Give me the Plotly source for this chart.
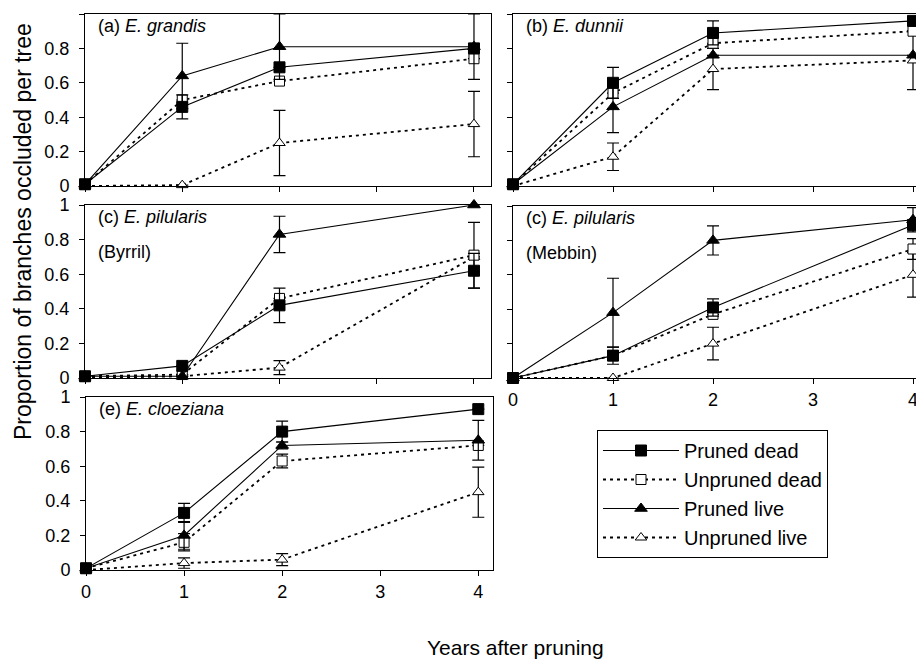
import plotly.graph_objects as go

# ---------------- data ----------------
years = [0, 1, 2, 4]
series_names = ["Pruned dead", "Unpruned dead", "Pruned live", "Unpruned live"]

# (a) E. grandis
a_pd = [0.01, 0.46, 0.69, 0.80]; a_pd_e = [0, 0.07, 0.00, 0.00]
a_ud = [0.01, 0.50, 0.61, 0.74]; a_ud_e = [0, 0.00, 0.00, 0.00]
a_pl = [0.01, 0.64, 0.81, 0.81]; a_pl_e = [0, 0.19, 0.19, 0.19]
a_ul = [0.00, 0.005, 0.25, 0.36]; a_ul_e = [0, 0.00, 0.19, 0.19]

# (b) E. dunnii
b_pd = [0.01, 0.60, 0.89, 0.96]; b_pd_e = [0, 0.09, 0.07, 0.00]
b_ud = [0.01, 0.54, 0.83, 0.90]; b_ud_e = [0, 0.00, 0.00, 0.00]
b_pl = [0.01, 0.46, 0.76, 0.76]; b_pl_e = [0, 0.15, 0.00, 0.00]
b_ul = [0.00, 0.17, 0.68, 0.73]; b_ul_e = [0, 0.08, 0.12, 0.17]

# (c) E. pilularis (Byrril)
c_pd = [0.01, 0.07, 0.42, 0.62]; c_pd_e = [0, 0.00, 0.10, 0.10]
c_ud = [0.01, 0.02, 0.46, 0.71]; c_ud_e = [0, 0.00, 0.00, 0.19]
c_pl = [0.01, 0.01, 0.83, 1.00]; c_pl_e = [0, 0.00, 0.105, 0.00]
c_ul = [0.00, 0.01, 0.06, 0.70]; c_ul_e = [0, 0.00, 0.04, 0.00]

# (c) E. pilularis (Mebbin)
d_pd = [0.00, 0.13, 0.41, 0.89]; d_pd_e = [0, 0.05, 0.05, 0.00]
d_ud = [0.00, 0.13, 0.37, 0.75]; d_ud_e = [0, 0.00, 0.00, 0.06]
d_pl = [0.00, 0.38, 0.80, 0.92]; d_pl_e = [0, 0.20, 0.085, 0.07]
d_ul = [0.00, 0.00, 0.20, 0.60]; d_ul_e = [0, 0.00, 0.095, 0.13]

# (e) E. cloeziana
e_pd = [0.01, 0.33, 0.80, 0.93]; e_pd_e = [0, 0.055, 0.06, 0.00]
e_ud = [0.01, 0.16, 0.63, 0.72]; e_ud_e = [0, 0.05, 0.04, 0.00]
e_pl = [0.01, 0.20, 0.72, 0.75]; e_pl_e = [0, 0.08, 0.02, 0.115]
e_ul = [0.00, 0.04, 0.06, 0.45]; e_ul_e = [0, 0.03, 0.035, 0.145]

panel_titles = ["(a) ", "(b) ", "(c) ", "(c) ", "(e) "]
panel_species = ["E. grandis", "E. dunnii", "E. pilularis", "E. pilularis", "E. cloeziana"]
panel_sub = [None, None, "(Byrril)", "(Mebbin)", None]

y_ticks = [0, 0.2, 0.4, 0.6, 0.8, 1]
y_ticktext = ["0", "0.2", "0.4", "0.6", "0.8", "1"]
x_ticks = [0, 1, 2, 3, 4]

panels = [
    (a_pd, a_pd_e, a_ud, a_ud_e, a_pl, a_pl_e, a_ul, a_ul_e),
    (b_pd, b_pd_e, b_ud, b_ud_e, b_pl, b_pl_e, b_ul, b_ul_e),
    (c_pd, c_pd_e, c_ud, c_ud_e, c_pl, c_pl_e, c_ul, c_ul_e),
    (d_pd, d_pd_e, d_ud, d_ud_e, d_pl, d_pl_e, d_ul, d_ul_e),
    (e_pd, e_pd_e, e_ud, e_ud_e, e_pl, e_pl_e, e_ul, e_ul_e),
]

# ---------------- layout geometry (window pixels) ----------------
OFF = 8                      # default page body margin
W, H = 924 - OFF, 662 - OFF  # figure size so it fits the window
FONT = "Liberation Sans, Arial, sans-serif"

def px(x):
    return (x - OFF) / W

def py(y):
    return 1 - (y - OFF) / H

# left, right, top, bottom, xmax  (window pixel coordinates)
geom = [
    (85, 491, 14, 186, 4.175),
    (513, 922, 14, 186, 4.09),
    (85, 491, 205, 378, 4.175),
    (513, 922, 206, 378, 4.09),
    (86, 493, 397, 570, 4.15),
]
show_ylabels = [True, False, True, False, True]
show_xlabels = [False, False, False, True, True]

styles = {
    "Pruned dead": dict(symbol="square", color="black", dash="solid", lw=1.1, size=11),
    "Unpruned dead": dict(symbol="square", color="white", dash="3px,4px", lw=1.8, size=10),
    "Pruned live": dict(symbol="triangle-up", color="black", dash="solid", lw=1.1, size=11),
    "Unpruned live": dict(symbol="triangle-up", color="white", dash="3px,4px", lw=1.8, size=10),
}
draw_order = ["Unpruned live", "Unpruned dead", "Pruned live", "Pruned dead"]
legend_rank = {n: i for i, n in enumerate(series_names)}

fig = go.Figure()
layout = dict(
    width=W, height=H,
    margin=dict(l=0, r=0, t=0, b=0, pad=0, autoexpand=False),
    paper_bgcolor="white", plot_bgcolor="white",
    font=dict(family=FONT, size=18, color="black"),
    showlegend=True,
)

annotations = []
for i, (vals, g) in enumerate(zip(panels, geom)):
    k = "" if i == 0 else str(i + 1)
    xa, ya = "x" + k, "y" + k
    left, right, top, bottom, xmax = g
    data = {
        "Pruned dead": (vals[0], vals[1]),
        "Unpruned dead": (vals[2], vals[3]),
        "Pruned live": (vals[4], vals[5]),
        "Unpruned live": (vals[6], vals[7]),
    }
    for name in draw_order:
        yv, ye = data[name]
        s = styles[name]
        fig.add_trace(go.Scatter(
            x=years, y=yv, xaxis=xa, yaxis=ya, name=name,
            mode="lines+markers",
            line=dict(color="black", width=s["lw"], dash=s["dash"]),
            marker=dict(symbol=s["symbol"], color=s["color"], size=s["size"],
                        line=dict(color="black", width=1)),
            error_y=dict(type="data", array=ye, symmetric=True, visible=True,
                         color="black", thickness=1.2, width=6),
            cliponaxis=False,
            showlegend=(i == 0), legendrank=legend_rank[name],
        ))
    layout["xaxis" + k] = dict(
        domain=[px(left), px(right)], range=[0, xmax], anchor=ya,
        showline=True, linecolor="black", linewidth=1, mirror=True,
        showgrid=False, zeroline=False, automargin=False,
        tickmode="array", tickvals=x_ticks, ticktext=[str(t) for t in x_ticks],
        ticks="outside", ticklen=5, tickcolor="black",
        showticklabels=show_xlabels[i],
        tickfont=dict(size=18, family=FONT),
        fixedrange=True,
    )
    layout["yaxis" + k] = dict(
        domain=[py(bottom), py(top)], range=[0, 1], anchor=xa,
        showline=True, linecolor="black", linewidth=1, mirror=True,
        showgrid=False, zeroline=False, automargin=False,
        tickmode="array", tickvals=y_ticks, ticktext=y_ticktext,
        ticks="outside", ticklen=5, tickcolor="black",
        showticklabels=show_ylabels[i],
        tickfont=dict(size=18, family=FONT),
        ticklabelstandoff=6,
        fixedrange=True,
    )
    annotations.append(dict(
        x=px(left + 11), y=py(top + 12), xref="paper", yref="paper",
        xanchor="left", yanchor="middle", showarrow=False,
        text=panel_titles[i] + "<i>" + panel_species[i] + "</i>",
        font=dict(size=18, family=FONT),
    ))
    if panel_sub[i]:
        annotations.append(dict(
            x=px(left + 11), y=py(top + 47), xref="paper", yref="paper",
            xanchor="left", yanchor="middle", showarrow=False,
            text=panel_sub[i], font=dict(size=18, family=FONT),
        ))

annotations.append(dict(
    x=px(23), y=py(232), xref="paper", yref="paper", textangle=-90,
    xanchor="center", yanchor="middle", showarrow=False,
    text="Proportion of branches occluded per tree", font=dict(size=23, family=FONT),
))
annotations.append(dict(
    x=px(516), y=py(647), xref="paper", yref="paper",
    xanchor="center", yanchor="middle", showarrow=False,
    text="Years after pruning", font=dict(size=21, family=FONT),
))

layout["annotations"] = annotations
layout["legend"] = dict(
    x=px(597), y=py(430), xanchor="left", yanchor="top",
    bordercolor="black", borderwidth=1, bgcolor="white",
    font=dict(size=20, family=FONT), tracegroupgap=0,
    itemwidth=76, traceorder="normal",
)
fig.update_layout(**layout)
fig.write_html("out.html")
